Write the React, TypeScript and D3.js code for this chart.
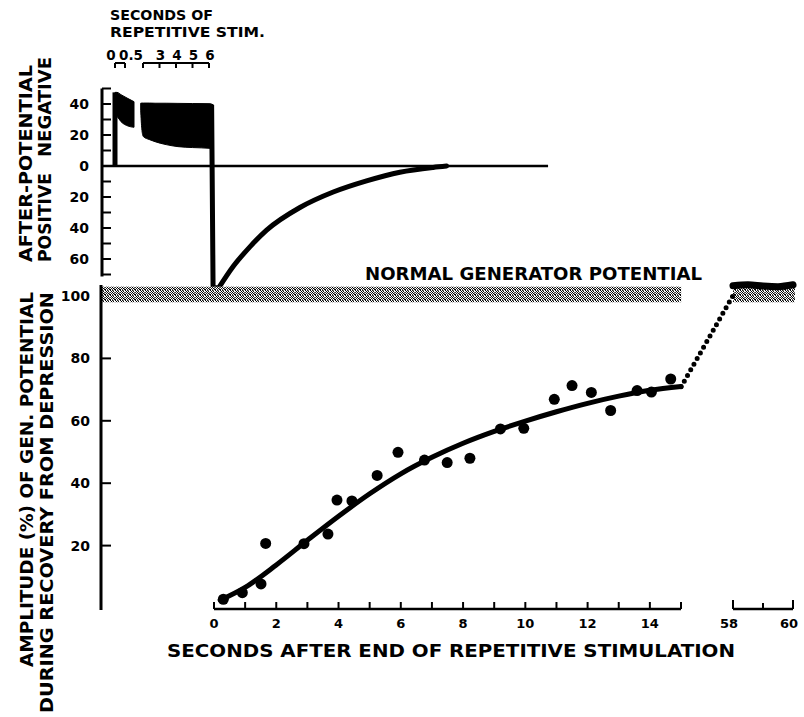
import React from "react";
import * as d3 from "d3";

// ---------- data ----------
// lower panel: recovery of generator potential (seconds after end of stimulation, % amplitude)
const dotSeconds = [0.3, 0.91, 1.51, 1.66, 2.89, 3.66, 3.95, 4.43, 5.24, 5.91, 6.76, 7.49, 8.22, 9.2, 9.95, 10.93, 11.5, 12.12, 12.74, 13.59, 14.05, 14.67];
const dotAmplitude = [2.8, 4.9, 7.7, 20.7, 20.6, 23.7, 34.6, 34.3, 42.5, 49.9, 47.4, 46.6, 48.0, 57.4, 57.6, 66.9, 71.3, 69.1, 63.3, 69.7, 69.2, 73.4];
const fitSeconds = [0.2, 1, 2, 3, 4, 5, 6, 7, 8, 9, 10, 11, 12, 13, 14, 15.07];
const fitAmplitude = [2.5, 6.6, 13.8, 21.7, 29.4, 36.6, 43.0, 48.3, 52.8, 56.6, 59.9, 62.9, 65.6, 67.9, 69.8, 71.0];
const bridgeSeconds = [15.07, 58.05];
const bridgeAmplitude = [70.9, 101];
const lateSeconds = [58, 58.5, 59, 59.5, 60];
const lateAmplitude = [103.3, 103.6, 103.2, 103.0, 103.6];
const normalBand = [98, 103];
const normalBandEnd = 15.12;

// upper panel: after-potential (+ = negative after-potential)
const burst1Time = [0, 0.1, 0.3, 0.65, 0.95];
const burst1Top = [47.5, 47.5, 46, 43.5, 41.5];
const burst1Bottom = [33, 32, 28.6, 25.8, 25];
const burst2Time = [1.71, 1.85, 2.02, 2.4, 2.73, 3.4, 4.12, 5.0, 6.06, 6.25];
const burst2Top = [40.5, 40.6, 40.6, 40.6, 40.5, 40.5, 40.4, 40.3, 40.2, 39.5];
const burst2Bottom = [36, 24, 19, 17, 15.7, 13.8, 12.5, 11.9, 11.4, 11.2];
const afterSeconds = [0.14, 0.62, 1.16, 1.69, 2.76, 3.83, 4.9, 5.97, 7.04, 7.47];
const afterValue = [-79, -64.7, -52, -41.4, -26.8, -16.8, -9.6, -4.0, -0.9, 0];
const baselineEnd = 10.73;

// ticks / labels
const lowXTicks = d3.range(0, 16);
const lowXLabels = [0, 2, 4, 6, 8, 10, 12, 14];
const breakXTicks = [58, 59, 60];
const breakXLabels = [58, 60];
const lowYTicks = [20, 40, 60, 80];
const lowYLabels = [20, 40, 60, 80, 100];
const upYTicks = d3.range(-70, 51, 10);
const upYLabels = [40, 20, 0, -20, -40, -60];
const stimLabels = ["0", "0.5", "3", "4", "5", "6"];
const stimLabelTimes = [0, 0.5, 3, 4, 5, 6];
const stimBrackets = [[0, 0.5], [2, 3, 4, 5, 6]];

// stipple cells of the shaded band pattern (x, y, shade)
const stippleCells: [number, number, string][] = [
  [0, 0, "#000"], [2, 0, "#222"], [3, 0, "#777"],
  [1, 1, "#000"], [3, 1, "#111"],
  [0, 2, "#333"], [2, 2, "#000"], [4, 2, "#666"],
  [1, 3, "#222"], [3, 3, "#000"], [4, 3, "#888"],
  [0, 4, "#000"], [2, 4, "#444"], [4, 4, "#000"],
];

const FONT = "'DejaVu Sans', sans-serif";

export default function App() {
  const xLow = d3.scaleLinear().domain([0, 15, 58, 60]).range([214, 681, 733, 793]);
  const yLow = d3.scaleLinear().domain([0, 100]).range([608, 296]);
  const yUp = d3.scaleLinear().domain([-70, 50]).range([274.5, 88.5]);
  const xStim = d3.scaleLinear().domain([0, 1, 2, 6]).range([115, 135, 143, 209]);

  const upAxisX = 102;
  const lowAxisX = 101;
  const lowAxisY = 609;

  const fitLine = d3
    .line<number>()
    .x((_, i) => xLow(fitSeconds[i]))
    .y((d) => yLow(d))
    .curve(d3.curveMonotoneX)(fitAmplitude) as string;

  const bridgeLine = d3
    .line<number>()
    .x((_, i) => xLow(bridgeSeconds[i]))
    .y((d) => yLow(d))(bridgeAmplitude) as string;

  const lateLine = d3
    .line<number>()
    .x((_, i) => xLow(lateSeconds[i]))
    .y((d) => yLow(d))
    .curve(d3.curveMonotoneX)(lateAmplitude) as string;

  const area1 = d3
    .area<number>()
    .x((t) => xStim(t))
    .y0((_, i) => yUp(burst1Bottom[i]))
    .y1((_, i) => yUp(burst1Top[i]))
    .curve(d3.curveMonotoneX)(burst1Time) as string;

  const area2 = d3
    .area<number>()
    .x((t) => xStim(t))
    .y0((_, i) => yUp(burst2Bottom[i]))
    .y1((_, i) => yUp(burst2Top[i]))
    .curve(d3.curveMonotoneX)(burst2Time) as string;

  const recoveryPts: [number, number][] = afterSeconds.map((s, i) => [xLow(s), yUp(afterValue[i])]);
  const dropStart: [number, number] = [xStim(burst2Time[burst2Time.length - 1]) - 1.5, yUp(burst2Top[burst2Top.length - 1])];
  const dropBottom: [number, number] = [xLow(-0.03), yUp(-78)];
  const recoveryCurve = d3.line().curve(d3.curveMonotoneX)(recoveryPts) as string;
  const dropPath = d3.line()([dropStart, dropBottom, recoveryPts[0]]) as string;

  const labelStyle = { fontFamily: FONT, fontWeight: 700 as const, fill: "#000" };

  return (
    <svg
      width={804}
      height={717}
      style={{ position: "absolute", left: 0, top: 0, background: "#fff" }}
    >
      <defs>
        <pattern id="stip" width={5} height={5} patternUnits="userSpaceOnUse">
          <rect width={5} height={5} fill="#fff" />
          {stippleCells.map(([x, y, c], i) => (
            <rect key={i} x={x} y={y} width={1} height={1} fill={c} />
          ))}
        </pattern>
      </defs>

      {/* ---------- top-left stimulus labels ---------- */}
      <text x={110} y={20} fontSize={13.5} {...labelStyle} textLength={103} lengthAdjust="spacingAndGlyphs">
        SECONDS OF
      </text>
      <text x={110} y={37} fontSize={13.5} {...labelStyle} textLength={155} lengthAdjust="spacingAndGlyphs">
        REPETITIVE STIM.
      </text>
      {stimLabels.map((lab, i) => {
        const dx = lab === "0" ? -4 : lab === "0.5" ? 6 : 1;
        return (
          <text key={lab} x={xStim(stimLabelTimes[i]) + dx} y={60} fontSize={13.5} textAnchor="middle" {...labelStyle}>
            {lab}
          </text>
        );
      })}
      {stimBrackets.map((br, k) => (
        <g key={k} stroke="#000" strokeWidth={2} fill="none">
          <line x1={xStim(br[0])} x2={xStim(br[br.length - 1])} y1={63} y2={63} />
          {br.map((t) => (
            <line key={t} x1={xStim(t)} x2={xStim(t)} y1={63} y2={68} />
          ))}
        </g>
      ))}

      {/* ---------- upper panel ---------- */}
      <line x1={upAxisX} x2={upAxisX} y1={yUp(50)} y2={yUp(-70) + 2} stroke="#000" strokeWidth={3} />
      {upYTicks.map((v) => (
        <line key={v} x1={upAxisX} x2={upAxisX + 9} y1={yUp(v)} y2={yUp(v)} stroke="#000" strokeWidth={2} />
      ))}
      {upYLabels.map((v) => (
        <text key={v} x={89} y={yUp(v) + 5} fontSize={14} textAnchor="end" {...labelStyle}>
          {Math.abs(v)}
        </text>
      ))}
      <line x1={upAxisX} x2={xLow(baselineEnd)} y1={yUp(0)} y2={yUp(0)} stroke="#000" strokeWidth={2.5} />
      <line x1={xStim(0)} x2={xStim(0)} y1={yUp(0)} y2={yUp(burst1Top[0])} stroke="#000" strokeWidth={5} />
      <path d={area1} fill="#000" stroke="#000" strokeWidth={1} />
      <path d={area2} fill="#000" stroke="#000" strokeWidth={1} />
      <path d={dropPath} fill="none" stroke="#000" strokeWidth={5} strokeLinejoin="round" />
      <path d={recoveryCurve} fill="none" stroke="#000" strokeWidth={5} strokeLinecap="round" />

      {/* upper y titles */}
      <text transform="translate(32,163.5) rotate(-90)" fontSize={18} textAnchor="middle" {...labelStyle} textLength={197} lengthAdjust="spacingAndGlyphs">
        AFTER-POTENTIAL
      </text>
      <text transform="translate(51,107) rotate(-90)" fontSize={17} textAnchor="middle" {...labelStyle} textLength={100} lengthAdjust="spacingAndGlyphs">
        NEGATIVE
      </text>
      <text transform="translate(51,217.5) rotate(-90)" fontSize={17} textAnchor="middle" {...labelStyle} textLength={89} lengthAdjust="spacingAndGlyphs">
        POSITIVE
      </text>

      {/* ---------- lower panel ---------- */}
      <rect
        x={lowAxisX}
        y={yLow(normalBand[1])}
        width={xLow(normalBandEnd) - lowAxisX}
        height={yLow(normalBand[0]) - yLow(normalBand[1])}
        fill="url(#stip)"
      />
      <rect
        x={xLow(58)}
        y={yLow(normalBand[1])}
        width={xLow(60) - xLow(58) + 2}
        height={yLow(normalBand[0]) - yLow(normalBand[1])}
        fill="url(#stip)"
      />
      <text x={365} y={280} fontSize={17} {...labelStyle} textLength={337} lengthAdjust="spacingAndGlyphs">
        NORMAL GENERATOR POTENTIAL
      </text>

      <line x1={lowAxisX} x2={lowAxisX} y1={yLow(103.5)} y2={lowAxisY + 1} stroke="#000" strokeWidth={3} />
      {lowYTicks.map((v) => (
        <line key={v} x1={lowAxisX} x2={lowAxisX + 10} y1={yLow(v)} y2={yLow(v)} stroke="#000" strokeWidth={2} />
      ))}
      {lowYLabels.map((v) => (
        <text key={v} x={90} y={yLow(v) + 5} fontSize={14} textAnchor="end" {...labelStyle}>
          {v}
        </text>
      ))}

      {/* x axis */}
      <line x1={xLow(0)} x2={xLow(15)} y1={lowAxisY} y2={lowAxisY} stroke="#000" strokeWidth={2.5} />
      {lowXTicks.map((t) => (
        <line key={t} x1={xLow(t)} x2={xLow(t)} y1={lowAxisY} y2={lowAxisY - 7} stroke="#000" strokeWidth={2} />
      ))}
      {lowXLabels.map((t) => (
        <text key={t} x={xLow(t)} y={628} fontSize={13} textAnchor="middle" {...labelStyle}>
          {t}
        </text>
      ))}
      <line x1={xLow(58)} x2={xLow(60)} y1={lowAxisY} y2={lowAxisY} stroke="#000" strokeWidth={2.5} />
      {breakXTicks.map((t) => (
        <line key={t} x1={xLow(t)} x2={xLow(t)} y1={lowAxisY} y2={lowAxisY - (t === 59 ? 6 : 9)} stroke="#000" strokeWidth={2} />
      ))}
      {breakXLabels.map((t) => (
        <text key={t} x={xLow(t) - 4} y={628} fontSize={13} textAnchor="middle" {...labelStyle}>
          {t}
        </text>
      ))}
      <text x={167} y={657} fontSize={18} {...labelStyle} textLength={568} lengthAdjust="spacingAndGlyphs">
        SECONDS AFTER END OF REPETITIVE STIMULATION
      </text>

      {/* curve, dots, bridge */}
      <path d={fitLine} fill="none" stroke="#000" strokeWidth={5} strokeLinecap="round" />
      <path d={bridgeLine} fill="none" stroke="#000" strokeWidth={5} strokeLinecap="round" strokeDasharray="0 6.5" />
      <path d={lateLine} fill="none" stroke="#000" strokeWidth={7} strokeLinecap="round" />
      {dotSeconds.map((s, i) => (
        <circle key={i} cx={xLow(s)} cy={yLow(dotAmplitude[i])} r={5.5} fill="#000" />
      ))}

      {/* lower y titles */}
      <text transform="translate(33,479.5) rotate(-90)" fontSize={18} textAnchor="middle" {...labelStyle} textLength={375} lengthAdjust="spacingAndGlyphs">
        AMPLITUDE (%) OF GEN. POTENTIAL
      </text>
      <text transform="translate(53,502.5) rotate(-90)" fontSize={18} textAnchor="middle" {...labelStyle} textLength={421} lengthAdjust="spacingAndGlyphs">
        DURING RECOVERY FROM DEPRESSION
      </text>
    </svg>
  );
}
